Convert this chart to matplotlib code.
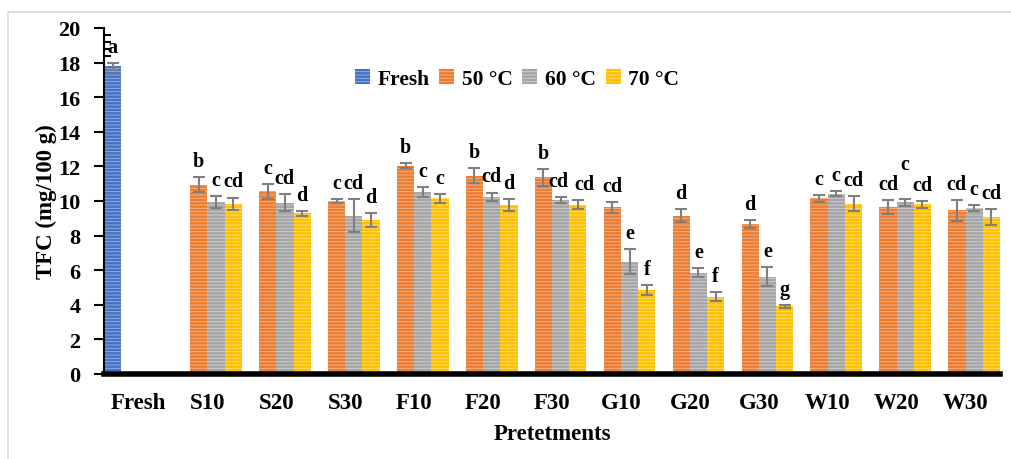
import matplotlib
matplotlib.use("Agg")
import matplotlib.pyplot as plt
import matplotlib.patches as mpatches
import numpy as np

categories = ["Fresh", "S10", "S20", "S30", "F10", "F20", "F30",
              "G10", "G20", "G30", "W10", "W20", "W30"]
series_names = ["Fresh", "50 °C", "60 °C", "70 °C"]

fresh_val = [17.8]
fresh_err = [0.2]
fresh_lab = ["a"]

t50_val = [10.94, 10.56, 10.0, 12.04, 11.46, 11.37, 9.63, 9.15, 8.67, 10.15, 9.65, 9.46]
t50_err = [0.42, 0.44, 0.12, 0.13, 0.43, 0.48, 0.33, 0.38, 0.23, 0.18, 0.39, 0.62]
t50_lab = ["b", "c", "c", "b", "b", "b", "cd", "d", "d", "c", "cd", "cd"]

t60_val = [9.94, 9.9, 9.15, 10.54, 10.25, 10.06, 6.5, 5.86, 5.63, 10.42, 9.92, 9.6]
t60_err = [0.34, 0.5, 0.95, 0.29, 0.24, 0.19, 0.72, 0.24, 0.57, 0.13, 0.2, 0.16]
t60_lab = ["c", "cd", "cd", "c", "cd", "cd", "e", "e", "e", "c", "c", "c"]

t70_val = [9.83, 9.29, 8.9, 10.15, 9.77, 9.77, 4.87, 4.47, 3.91, 9.85, 9.81, 9.06]
t70_err = [0.37, 0.15, 0.4, 0.24, 0.36, 0.26, 0.3, 0.25, 0.09, 0.42, 0.2, 0.47]
t70_lab = ["cd", "d", "d", "c", "d", "cd", "f", "f", "g", "cd", "cd", "cd"]

colors = ["#4472C4", "#ED7D31", "#A5A5A5", "#FFC000"]
stripe = ["#9DB5E3", "#F6B48E", "#D2D2D2", "#FFDF80"]

plt.rcParams['font.family'] = ['Liberation Serif', 'DejaVu Serif']
plt.rcParams['font.weight'] = 'bold'
plt.rcParams['hatch.linewidth'] = 0.6

W, H = 1012, 460
fig = plt.figure(figsize=(W / 100, H / 100), dpi=100)
ax = fig.add_axes([104 / W, 1 - 375 / H, 896 / W, 346 / H])

# chart-area frame
fig.add_artist(mpatches.Rectangle((8 / W, -0.1), 1.2, 1 - 13 / H + 0.1,
                                  transform=fig.transFigure, fill=False,
                                  edgecolor="#D9D9D9", lw=1.2))

x = np.arange(len(categories))
w = 0.25
offsets = [-1.5 * w, -0.5 * w, 0.5 * w, 1.5 * w]

groups = [
    (x[:1], fresh_val, fresh_err, fresh_lab),
    (x[1:], t50_val, t50_err, t50_lab),
    (x[1:], t60_val, t60_err, t60_lab),
    (x[1:], t70_val, t70_err, t70_lab),
]

# small label nudges (series index, category index) -> (dx, dy)
nudges = {(3, 5): (0.09, 0.0), (2, 5): (-0.03, 0.0), (2, 10): (0.0, 1.1)}

handles = []
for i, (xs, vals, errs, labs) in enumerate(groups):
    pos = xs + offsets[i]
    b = ax.bar(pos, vals, width=w, color=colors[i], edgecolor=stripe[i],
               linewidth=0, hatch="-----", label=series_names[i], zorder=2)
    handles.append(b)
    ax.errorbar(pos, vals, yerr=errs, fmt="none", ecolor="#7F7F7F",
                elinewidth=1.5, capsize=4.5, capthick=1.5, zorder=3)
    for j, (xp, v, e, t) in enumerate(zip(pos, vals, errs, labs)):
        dx, dy = nudges.get((i, j), (0.0, 0.0))
        ax.text(xp + dx, v + e + 0.35 + dy, t, ha="center",
                va="bottom", fontsize=14.5, fontweight="bold")

ax.set_xlim(-0.5, 12.5)
ax.set_ylim(0, 20)
ax.set_yticks(np.arange(0, 21, 2))
ax.set_yticks(np.arange(0, 20.01, 0.4), minor=True)
ax.set_xticks(x)
ax.set_xticklabels(categories)

for s in ["top", "right"]:
    ax.spines[s].set_visible(False)
ax.spines["left"].set_linewidth(1.5)
ax.spines["bottom"].set_linewidth(4)
ax.spines["bottom"].set_zorder(4)

ax.tick_params(axis="y", which="major", direction="out", length=7, width=1.5,
               pad=10, labelsize=16)
ax.tick_params(axis="y", which="minor", direction="in", length=5, width=1.5)
ax.tick_params(axis="x", length=0, pad=13, labelsize=16.5)
for lbl in ax.get_xticklabels() + ax.get_yticklabels():
    lbl.set_fontweight("bold")

ax.set_ylabel("TFC (mg/100 g)", fontsize=16.5, fontweight="bold", labelpad=1)
ax.set_xlabel("Pretetments", fontsize=16.5, fontweight="bold", labelpad=7)

ax.legend(handles=handles, loc="center", bbox_to_anchor=(0.461, 0.853),
          ncol=4, frameon=False, fontsize=15.5, handlelength=0.7,
          handleheight=0.7, handletextpad=0.35, columnspacing=0.45)

fig.savefig("out.png", dpi=100)
